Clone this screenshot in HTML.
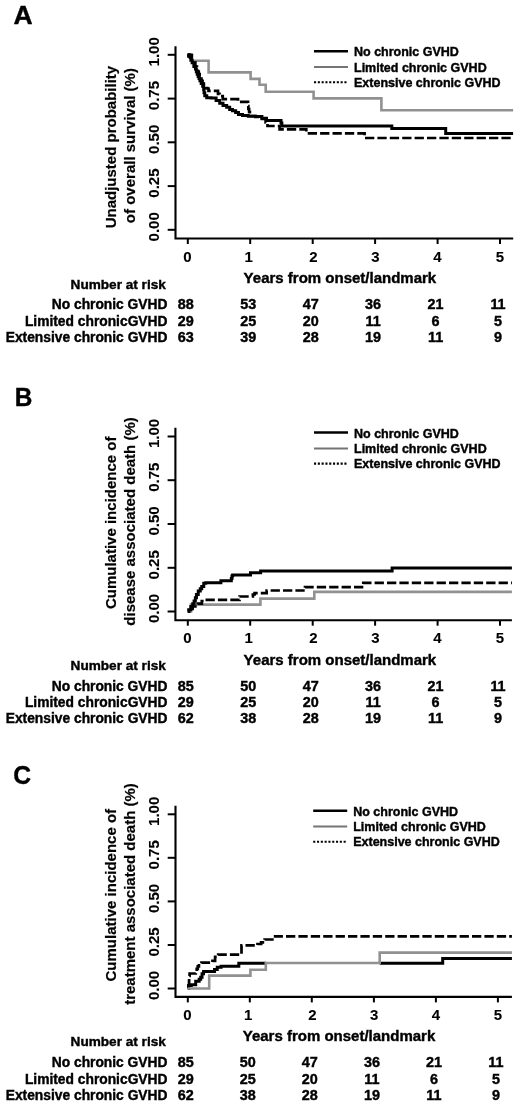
<!DOCTYPE html><html><head><meta charset="utf-8"><title>GVHD survival curves</title><style>html,body{margin:0;padding:0;background:#fff;}svg{display:block;}text{font-family:"Liberation Sans",Arial,sans-serif;font-weight:bold;fill:#000;stroke:#000;stroke-width:0.4px;}.tk{stroke-width:0.1px;}.yl{stroke-width:0.2px;}</style></head><body>
<svg width="520" height="1116" viewBox="0 0 520 1116">
<rect width="520" height="1116" fill="#fff"/>
<g id="panelA">
<text transform="translate(13.6,23.5) scale(1.0,1)" font-size="26.5">A</text>
<path d="M175.5,46.2V238.5H513.2" fill="none" stroke="#000" stroke-width="2.1"/>
<path d="M167.7,229.8H175.5" stroke="#000" stroke-width="2"/>
<text transform="translate(159.4,226.8) rotate(-90)" text-anchor="middle" font-size="15" class="tk">0.00</text>
<path d="M167.7,186.1H175.5" stroke="#000" stroke-width="2"/>
<text transform="translate(159.4,183.1) rotate(-90)" text-anchor="middle" font-size="15" class="tk">0.25</text>
<path d="M167.7,142.3H175.5" stroke="#000" stroke-width="2"/>
<text transform="translate(159.4,139.3) rotate(-90)" text-anchor="middle" font-size="15" class="tk">0.50</text>
<path d="M167.7,98.6H175.5" stroke="#000" stroke-width="2"/>
<text transform="translate(159.4,95.6) rotate(-90)" text-anchor="middle" font-size="15" class="tk">0.75</text>
<path d="M167.7,54.8H175.5" stroke="#000" stroke-width="2"/>
<text transform="translate(159.4,51.8) rotate(-90)" text-anchor="middle" font-size="15" class="tk">1.00</text>
<path d="M187.8,238.5v5.5" stroke="#000" stroke-width="2"/>
<text x="187.4" y="261.6" text-anchor="middle" font-size="15" class="tk">0</text>
<path d="M250.2,238.5v5.5" stroke="#000" stroke-width="2"/>
<text x="248.6" y="261.6" text-anchor="middle" font-size="15" class="tk">1</text>
<path d="M312.7,238.5v5.5" stroke="#000" stroke-width="2"/>
<text x="313.3" y="261.6" text-anchor="middle" font-size="15" class="tk">2</text>
<path d="M375.1,238.5v5.5" stroke="#000" stroke-width="2"/>
<text x="375.4" y="261.6" text-anchor="middle" font-size="15" class="tk">3</text>
<path d="M437.6,238.5v5.5" stroke="#000" stroke-width="2"/>
<text x="437.5" y="261.6" text-anchor="middle" font-size="15" class="tk">4</text>
<path d="M500.0,238.5v5.5" stroke="#000" stroke-width="2"/>
<text x="500.0" y="261.6" text-anchor="middle" font-size="15" class="tk">5</text>
<text transform="translate(116.2,147.1) rotate(-90)" text-anchor="middle" font-size="15" class="yl">Unadjusted probability</text>
<text transform="translate(134.7,145.6) rotate(-90)" text-anchor="middle" font-size="15" class="yl">of overall survival (%)</text>
<text x="339.9" y="283.4" text-anchor="middle" font-size="15">Years from onset/landmark</text>
<path d="M314,51.20h34" stroke="#000" stroke-width="2.5"/>
<path d="M314,67.00h34" stroke="#747474" stroke-width="2"/>
<path d="M314,82.20h33" stroke="#000" stroke-width="2.1" stroke-dasharray="2.1 1.7"/>
<text x="354" y="56.2" font-size="12.5">No chronic GVHD</text>
<text x="354" y="71.8" font-size="12.5">Limited chronic GVHD</text>
<text x="354" y="86.9" font-size="12.5">Extensive chronic GVHD</text>
<text x="165.8" y="288.5" text-anchor="end" font-size="13.6">Number at risk</text>
<text x="167.5" y="309.3" text-anchor="end" font-size="13.8">No chronic GVHD</text>
<text x="185.8" y="309.3" text-anchor="middle" font-size="14.4">88</text>
<text x="248.2" y="309.3" text-anchor="middle" font-size="14.4">53</text>
<text x="310.7" y="309.3" text-anchor="middle" font-size="14.4">47</text>
<text x="373.1" y="309.3" text-anchor="middle" font-size="14.4">36</text>
<text x="435.6" y="309.3" text-anchor="middle" font-size="14.4">21</text>
<text x="498.0" y="309.3" text-anchor="middle" font-size="14.4">11</text>
<text x="167.5" y="325.8" text-anchor="end" font-size="13.8">Limited chronicGVHD</text>
<text x="185.8" y="325.8" text-anchor="middle" font-size="14.4">29</text>
<text x="248.2" y="325.8" text-anchor="middle" font-size="14.4">25</text>
<text x="310.7" y="325.8" text-anchor="middle" font-size="14.4">20</text>
<text x="373.1" y="325.8" text-anchor="middle" font-size="14.4">11</text>
<text x="435.6" y="325.8" text-anchor="middle" font-size="14.4">6</text>
<text x="498.0" y="325.8" text-anchor="middle" font-size="14.4">5</text>
<text x="167.5" y="341.7" text-anchor="end" font-size="13.8">Extensive chronic GVHD</text>
<text x="185.8" y="341.7" text-anchor="middle" font-size="14.4">63</text>
<text x="248.2" y="341.7" text-anchor="middle" font-size="14.4">39</text>
<text x="310.7" y="341.7" text-anchor="middle" font-size="14.4">28</text>
<text x="373.1" y="341.7" text-anchor="middle" font-size="14.4">19</text>
<text x="435.6" y="341.7" text-anchor="middle" font-size="14.4">11</text>
<text x="498.0" y="341.7" text-anchor="middle" font-size="14.4">9</text>
<path d="M187.8,54.8 H190.5 V60.7 H208.6 V72.4 H250.6 V78.9 H259.5 V84.8 H265.7 V91.8 H313.6 V98.4 H381.4 V110.3 H513.1" fill="none" stroke="#919191" stroke-width="2.6" stroke-linejoin="miter"/>
<path d="M187.80,54.80H189.15V56.50H190.50H191.43V59.60H193.27V62.70H194.20H195.35V66.50H196.50H196.95V69.07H197.85V71.63H198.75V74.20H199.20H199.65V76.40H200.55V78.60H201.45V80.80H201.90H202.55V83.50H203.85V86.20H204.50H205.25V88.20H206.00H207.25V88.50H208.50L208.50,90.80L218.00,90.80L218.00,93.80H219.50V96.00H221.00H222.75V99.20H224.50L238.00,99.20L238.00,101.90L248.00,101.90L248.00,106.00H248.38V109.00H249.12V112.00H249.50H249.88V114.00H250.62V116.00H251.00H255.30V116.80H259.60H261.90V119.00H264.20H265.60V122.50H267.00H267.50V126.00H268.00L279.60,126.00L279.60,129.30L306.30,129.30L306.30,133.30L364.60,133.30L364.60,138.00L513.10,138.00" fill="none" stroke="#000" stroke-width="2.7" stroke-dasharray="9.3 3.1" stroke-dashoffset="0" stroke-linejoin="miter"/>
<path d="M187.80,54.80H188.90V55.20H190.00H190.25V57.50H190.50H191.05V60.10H192.15V62.70H192.70H193.85V66.50H195.00H195.45V69.07H196.35V71.63H197.25V74.20H197.70H198.15V76.40H199.05V78.60H199.95V80.80H200.40H201.18V83.50H202.72V86.20H203.50H203.68V89.45H204.02V92.70H204.20H204.80V95.80H205.40H206.75V97.70H208.10H211.15V98.10H214.20H216.10V100.40H218.00H219.70V103.20H221.40H223.00V105.40H224.60H226.68V107.20H228.75H229.68V109.40H230.60H232.50V110.80H234.40H235.65V112.60H236.90H238.45V114.60H240.00H242.50V115.40H245.00H248.25V116.20H251.50H255.55V116.40H259.60H261.90V118.20H264.20H266.50V120.50H268.80L281.00,120.50L281.00,123.00H281.85V125.90H282.70L391.80,125.90L391.80,128.60L445.70,128.60L445.70,133.50L513.10,133.50" fill="none" stroke="#000" stroke-width="3" stroke-linejoin="miter"/>
<rect x="187.2" y="53.6" width="6" height="4.1" fill="#000"/>
</g>
<g id="panelB">
<text transform="translate(14.7,405.9) scale(0.92,1)" font-size="26.5">B</text>
<path d="M175.4,427.8V620.2H511.9" fill="none" stroke="#000" stroke-width="2.1"/>
<path d="M167.6,611.5H175.4" stroke="#000" stroke-width="2"/>
<text transform="translate(159.4,608.5) rotate(-90)" text-anchor="middle" font-size="15" class="tk">0.00</text>
<path d="M167.6,567.8H175.4" stroke="#000" stroke-width="2"/>
<text transform="translate(159.4,564.8) rotate(-90)" text-anchor="middle" font-size="15" class="tk">0.25</text>
<path d="M167.6,524.0H175.4" stroke="#000" stroke-width="2"/>
<text transform="translate(159.4,521.0) rotate(-90)" text-anchor="middle" font-size="15" class="tk">0.50</text>
<path d="M167.6,480.2H175.4" stroke="#000" stroke-width="2"/>
<text transform="translate(159.4,477.2) rotate(-90)" text-anchor="middle" font-size="15" class="tk">0.75</text>
<path d="M167.6,436.5H175.4" stroke="#000" stroke-width="2"/>
<text transform="translate(159.4,433.5) rotate(-90)" text-anchor="middle" font-size="15" class="tk">1.00</text>
<path d="M187.8,620.2v5.5" stroke="#000" stroke-width="2"/>
<text x="187.4" y="643.2" text-anchor="middle" font-size="15" class="tk">0</text>
<path d="M250.2,620.2v5.5" stroke="#000" stroke-width="2"/>
<text x="248.6" y="643.2" text-anchor="middle" font-size="15" class="tk">1</text>
<path d="M312.7,620.2v5.5" stroke="#000" stroke-width="2"/>
<text x="313.3" y="643.2" text-anchor="middle" font-size="15" class="tk">2</text>
<path d="M375.1,620.2v5.5" stroke="#000" stroke-width="2"/>
<text x="375.4" y="643.2" text-anchor="middle" font-size="15" class="tk">3</text>
<path d="M437.6,620.2v5.5" stroke="#000" stroke-width="2"/>
<text x="437.5" y="643.2" text-anchor="middle" font-size="15" class="tk">4</text>
<path d="M500.0,620.2v5.5" stroke="#000" stroke-width="2"/>
<text x="500.0" y="643.2" text-anchor="middle" font-size="15" class="tk">5</text>
<text transform="translate(116.2,522.8) rotate(-90)" text-anchor="middle" font-size="15" class="yl">Cumulative incidence of</text>
<text transform="translate(134.7,521.5) rotate(-90)" text-anchor="middle" font-size="15" class="yl">disease associated death (%)</text>
<text x="339.9" y="665.0" text-anchor="middle" font-size="15">Years from onset/landmark</text>
<path d="M314,432.60h34" stroke="#000" stroke-width="2.5"/>
<path d="M314,448.40h34" stroke="#747474" stroke-width="2"/>
<path d="M314,463.60h33" stroke="#000" stroke-width="2.1" stroke-dasharray="2.1 1.7"/>
<text x="354" y="437.6" font-size="12.5">No chronic GVHD</text>
<text x="354" y="453.2" font-size="12.5">Limited chronic GVHD</text>
<text x="354" y="468.3" font-size="12.5">Extensive chronic GVHD</text>
<text x="165.8" y="670.1" text-anchor="end" font-size="13.6">Number at risk</text>
<text x="167.5" y="690.9" text-anchor="end" font-size="13.8">No chronic GVHD</text>
<text x="185.8" y="690.9" text-anchor="middle" font-size="14.4">85</text>
<text x="248.2" y="690.9" text-anchor="middle" font-size="14.4">50</text>
<text x="310.7" y="690.9" text-anchor="middle" font-size="14.4">47</text>
<text x="373.1" y="690.9" text-anchor="middle" font-size="14.4">36</text>
<text x="435.6" y="690.9" text-anchor="middle" font-size="14.4">21</text>
<text x="498.0" y="690.9" text-anchor="middle" font-size="14.4">11</text>
<text x="167.5" y="707.4" text-anchor="end" font-size="13.8">Limited chronicGVHD</text>
<text x="185.8" y="707.4" text-anchor="middle" font-size="14.4">29</text>
<text x="248.2" y="707.4" text-anchor="middle" font-size="14.4">25</text>
<text x="310.7" y="707.4" text-anchor="middle" font-size="14.4">20</text>
<text x="373.1" y="707.4" text-anchor="middle" font-size="14.4">11</text>
<text x="435.6" y="707.4" text-anchor="middle" font-size="14.4">6</text>
<text x="498.0" y="707.4" text-anchor="middle" font-size="14.4">5</text>
<text x="167.5" y="723.3" text-anchor="end" font-size="13.8">Extensive chronic GVHD</text>
<text x="185.8" y="723.3" text-anchor="middle" font-size="14.4">62</text>
<text x="248.2" y="723.3" text-anchor="middle" font-size="14.4">38</text>
<text x="310.7" y="723.3" text-anchor="middle" font-size="14.4">28</text>
<text x="373.1" y="723.3" text-anchor="middle" font-size="14.4">19</text>
<text x="435.6" y="723.3" text-anchor="middle" font-size="14.4">11</text>
<text x="498.0" y="723.3" text-anchor="middle" font-size="14.4">9</text>
<path d="M187.8,611.5 H191 V604.6 H260.4 V598.6 H314.3 V591.9 H511.9" fill="none" stroke="#919191" stroke-width="2.6" stroke-linejoin="miter"/>
<path d="M187.80,611.50H189.00V608.80H190.20H192.60V606.50H195.00H197.80V603.60H200.60H201.80V601.00H203.00H204.40V599.80H205.80L239.50,599.80L239.50,596.50L251.60,596.50H252.90V594.50H254.20H254.60V593.10H255.00L266.30,593.10H266.65V590.50H267.00L305.00,590.50L305.00,587.10L363.30,587.10L363.30,582.90L511.90,582.90" fill="none" stroke="#000" stroke-width="2.7" stroke-dasharray="9.3 3.1" stroke-dashoffset="-4.6" stroke-linejoin="miter"/>
<path d="M187.80,611.50H188.70V609.80H189.60H190.80V606.50H192.00H192.70V603.75H194.10V601.00H194.80H195.35V597.75H196.45V594.50H197.00H198.25V591.00H199.50H200.25V588.75H201.75V586.50H202.50H203.75V583.20H205.00H205.75V582.80H206.50L220.90,582.80L220.90,580.80L231.00,580.80H231.32V578.45H231.98V576.10H232.30H232.65V575.10H233.00L250.50,575.10L250.50,572.80L260.60,572.80L260.60,570.90L392.10,570.90L392.10,567.90L511.90,567.90" fill="none" stroke="#000" stroke-width="3" stroke-linejoin="miter"/>
</g>
<g id="panelC">
<text transform="translate(13.2,783.7) scale(0.93,1)" font-size="26.5">C</text>
<path d="M175.5,805.8V996.9H511.9" fill="none" stroke="#000" stroke-width="2.1"/>
<path d="M167.7,988.5H175.5" stroke="#000" stroke-width="2"/>
<text transform="translate(159.4,985.5) rotate(-90)" text-anchor="middle" font-size="15" class="tk">0.00</text>
<path d="M167.7,945.0H175.5" stroke="#000" stroke-width="2"/>
<text transform="translate(159.4,942.0) rotate(-90)" text-anchor="middle" font-size="15" class="tk">0.25</text>
<path d="M167.7,901.4H175.5" stroke="#000" stroke-width="2"/>
<text transform="translate(159.4,898.4) rotate(-90)" text-anchor="middle" font-size="15" class="tk">0.50</text>
<path d="M167.7,857.8H175.5" stroke="#000" stroke-width="2"/>
<text transform="translate(159.4,854.8) rotate(-90)" text-anchor="middle" font-size="15" class="tk">0.75</text>
<path d="M167.7,814.3H175.5" stroke="#000" stroke-width="2"/>
<text transform="translate(159.4,811.3) rotate(-90)" text-anchor="middle" font-size="15" class="tk">1.00</text>
<path d="M187.8,996.9v5.5" stroke="#000" stroke-width="2"/>
<text x="187.4" y="1019.5" text-anchor="middle" font-size="15" class="tk">0</text>
<path d="M249.8,996.9v5.5" stroke="#000" stroke-width="2"/>
<text x="248.2" y="1019.5" text-anchor="middle" font-size="15" class="tk">1</text>
<path d="M311.8,996.9v5.5" stroke="#000" stroke-width="2"/>
<text x="312.4" y="1019.5" text-anchor="middle" font-size="15" class="tk">2</text>
<path d="M373.9,996.9v5.5" stroke="#000" stroke-width="2"/>
<text x="374.2" y="1019.5" text-anchor="middle" font-size="15" class="tk">3</text>
<path d="M435.9,996.9v5.5" stroke="#000" stroke-width="2"/>
<text x="435.8" y="1019.5" text-anchor="middle" font-size="15" class="tk">4</text>
<path d="M497.9,996.9v5.5" stroke="#000" stroke-width="2"/>
<text x="497.9" y="1019.5" text-anchor="middle" font-size="15" class="tk">5</text>
<text transform="translate(116.2,895.2) rotate(-90)" text-anchor="middle" font-size="15" class="yl">Cumulative incidence of</text>
<text transform="translate(134.7,894.0) rotate(-90)" text-anchor="middle" font-size="15" class="yl">treatment associated death (%)</text>
<text x="339.0" y="1041.3" text-anchor="middle" font-size="15">Years from onset/landmark</text>
<path d="M313.2,810.70h34" stroke="#000" stroke-width="2.5"/>
<path d="M313.2,826.50h34" stroke="#747474" stroke-width="2"/>
<path d="M313.2,841.70h33" stroke="#000" stroke-width="2.1" stroke-dasharray="2.1 1.7"/>
<text x="353.2" y="815.7" font-size="12.5">No chronic GVHD</text>
<text x="353.2" y="831.3" font-size="12.5">Limited chronic GVHD</text>
<text x="353.2" y="846.4" font-size="12.5">Extensive chronic GVHD</text>
<text x="165.8" y="1046.4" text-anchor="end" font-size="13.6">Number at risk</text>
<text x="167.5" y="1067.2" text-anchor="end" font-size="13.8">No chronic GVHD</text>
<text x="185.8" y="1067.2" text-anchor="middle" font-size="14.4">85</text>
<text x="247.8" y="1067.2" text-anchor="middle" font-size="14.4">50</text>
<text x="309.8" y="1067.2" text-anchor="middle" font-size="14.4">47</text>
<text x="371.9" y="1067.2" text-anchor="middle" font-size="14.4">36</text>
<text x="433.9" y="1067.2" text-anchor="middle" font-size="14.4">21</text>
<text x="495.9" y="1067.2" text-anchor="middle" font-size="14.4">11</text>
<text x="167.5" y="1083.7" text-anchor="end" font-size="13.8">Limited chronicGVHD</text>
<text x="185.8" y="1083.7" text-anchor="middle" font-size="14.4">29</text>
<text x="247.8" y="1083.7" text-anchor="middle" font-size="14.4">25</text>
<text x="309.8" y="1083.7" text-anchor="middle" font-size="14.4">20</text>
<text x="371.9" y="1083.7" text-anchor="middle" font-size="14.4">11</text>
<text x="433.9" y="1083.7" text-anchor="middle" font-size="14.4">6</text>
<text x="495.9" y="1083.7" text-anchor="middle" font-size="14.4">5</text>
<text x="167.5" y="1099.6" text-anchor="end" font-size="13.8">Extensive chronic GVHD</text>
<text x="185.8" y="1099.6" text-anchor="middle" font-size="14.4">62</text>
<text x="247.8" y="1099.6" text-anchor="middle" font-size="14.4">38</text>
<text x="309.8" y="1099.6" text-anchor="middle" font-size="14.4">28</text>
<text x="371.9" y="1099.6" text-anchor="middle" font-size="14.4">19</text>
<text x="433.9" y="1099.6" text-anchor="middle" font-size="14.4">11</text>
<text x="495.9" y="1099.6" text-anchor="middle" font-size="14.4">9</text>
<path d="M187.80,988.50H188.65V985.60H189.50H191.25V984.80H193.00H195.70V981.20H198.40H199.18V979.25H200.72V977.30H201.50H202.05V973.80H202.60H203.55V971.60H204.50L213.80,971.60H214.55V969.60H215.30H217.25V967.30H219.20H221.10V966.30H223.00L238.00,966.30H238.80V963.20H239.60L266.00,963.20M379.70,963.20L442.70,963.20L442.70,958.60L511.90,958.60" fill="none" stroke="#000" stroke-width="3" stroke-linejoin="miter"/>
<path d="M187.80,988.50H188.40V986.00H189.00H189.03V983.50H189.07V981.00H189.12V978.50H189.17V976.00H189.20H189.60V973.50H190.00L195.30,973.50H195.78V971.15H196.72V968.80H197.20H197.77V966.30H198.93V963.80H199.50H201.45V962.70H203.40L211.50,962.70H212.45V960.80H213.40H215.10V956.90H216.80H218.20V954.60H219.60L241.50,954.60L241.50,945.40L256.50,945.40H257.50V944.00H258.50H261.10V942.40H263.70H264.60V939.50H265.50L274.50,939.50H275.15V936.30H275.80L511.90,936.30" fill="none" stroke="#000" stroke-width="2.7" stroke-dasharray="9.3 3.1" stroke-dashoffset="-1.6" stroke-linejoin="miter"/>
<path d="M187.8,988.5 H209.2 V975.6 H250.4 V969.7 H265.8 V963 H379.7 V952.6 H511.9" fill="none" stroke="#919191" stroke-width="2.6" stroke-linejoin="miter"/>
</g>
</svg></body></html>
